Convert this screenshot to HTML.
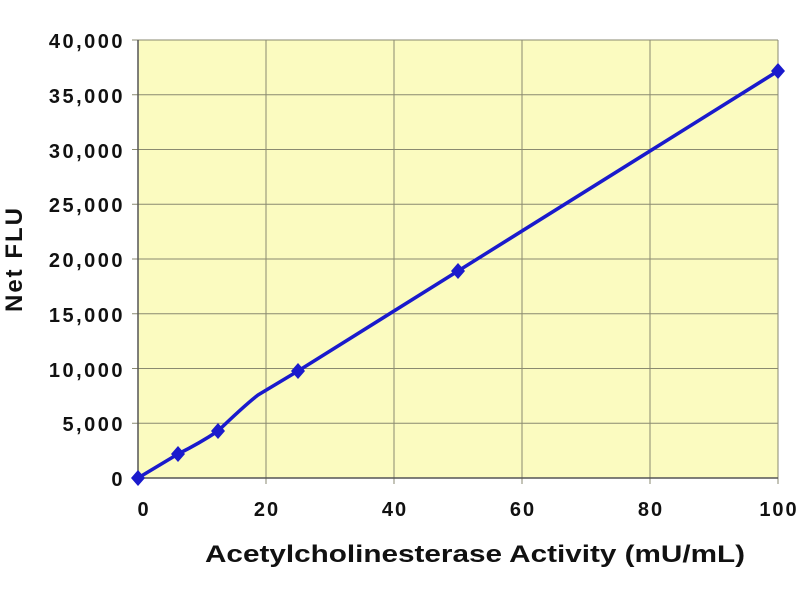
<!DOCTYPE html>
<html><head><style>body{margin:0;background:#fff}</style></head><body>
<svg width="800" height="600" xmlns="http://www.w3.org/2000/svg" font-family="Liberation Sans, sans-serif">
<rect x="138" y="40" width="640" height="438" fill="#fbfbc0"/>
<g stroke="#8a8a70" stroke-width="1">
<line x1="266" y1="40" x2="266" y2="484"/><line x1="394" y1="40" x2="394" y2="484"/><line x1="522" y1="40" x2="522" y2="484"/><line x1="650" y1="40" x2="650" y2="484"/><line x1="778" y1="40" x2="778" y2="484"/>
<line x1="132" y1="40" x2="778" y2="40"/><line x1="132" y1="94.75" x2="778" y2="94.75"/><line x1="132" y1="149.5" x2="778" y2="149.5"/><line x1="132" y1="204.25" x2="778" y2="204.25"/><line x1="132" y1="259" x2="778" y2="259"/><line x1="132" y1="313.75" x2="778" y2="313.75"/><line x1="132" y1="368.5" x2="778" y2="368.5"/><line x1="132" y1="423.25" x2="778" y2="423.25"/>
</g>
<g stroke="#555" stroke-width="1.5"><line x1="138" y1="40" x2="138" y2="478"/><line x1="132" y1="478" x2="778" y2="478"/><line x1="138" y1="478" x2="138" y2="484"/></g>
<g font-size="20" font-weight="bold" fill="#111" text-anchor="end" letter-spacing="2.5">
<text x="125" y="48">40,000</text><text x="125" y="103">35,000</text><text x="125" y="158">30,000</text><text x="125" y="212">25,000</text><text x="125" y="267">20,000</text><text x="125" y="322">15,000</text><text x="125" y="377">10,000</text><text x="125" y="431">5,000</text><text x="125" y="486">0</text>
</g>
<g font-size="20" font-weight="bold" fill="#111" text-anchor="middle" letter-spacing="2">
<text x="144" y="516">0</text><text x="267" y="516">20</text><text x="395" y="516">40</text><text x="523" y="516">60</text><text x="651" y="516">80</text><text x="779" y="516">100</text>
</g>
<text x="205" y="562" font-size="24" font-weight="bold" fill="#111" textLength="540" lengthAdjust="spacingAndGlyphs">Acetylcholinesterase Activity (mU/mL)</text>
<text transform="translate(22,259) rotate(-90)" font-size="24" font-weight="bold" text-anchor="middle" fill="#111" letter-spacing="2">Net FLU</text>
<path fill="none" stroke="#1a1acc" stroke-width="3.5" stroke-linejoin="round" d="M138,478 L178,454 Q200,443 218,431 Q245,405 258,395 L298,371 L458,271 L778,71"/>
<g fill="#1a1acc">
<path d="M138,470 l7,8 l-7,8 l-7,-8z"/><path d="M178,446 l7,8 l-7,8 l-7,-8z"/><path d="M218,423 l7,8 l-7,8 l-7,-8z"/><path d="M298,363 l7,8 l-7,8 l-7,-8z"/><path d="M458,263 l7,8 l-7,8 l-7,-8z"/><path d="M778,63 l7,8 l-7,8 l-7,-8z"/>
</g>
</svg>
</body></html>
